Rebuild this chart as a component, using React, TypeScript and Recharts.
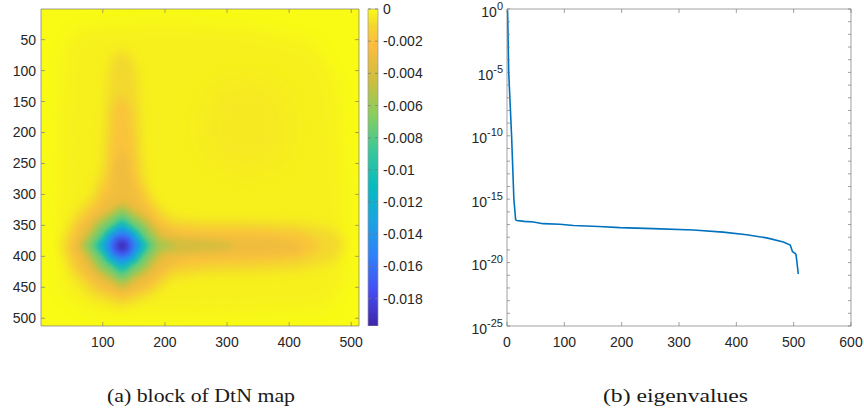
import React from 'react';
import {
  ScatterChart, Scatter, XAxis, YAxis, CartesianGrid,
  ComposedChart, ReferenceArea, LineChart, Line,
} from 'recharts';

// ---------- tick labels ----------
const heatXTicks = [100, 200, 300, 400, 500];
const heatYTicks = [50, 100, 150, 200, 250, 300, 350, 400, 450, 500];
const heatDomain: [number, number] = [0.5, 512.5];
const colorbarTicks = [0, -0.002, -0.004, -0.006, -0.008, -0.01, -0.012, -0.014, -0.016, -0.018];
const colorbarMin = -0.0197;
const eigXTicks = [0, 100, 200, 300, 400, 500, 600];
const eigDecades = [0, -1, -2, -3, -4, -5, -6, -7, -8, -9, -10, -11, -12, -13, -14, -15, -16, -17, -18, -19, -20, -21, -22, -23, -24, -25];

// ---------- eigenvalue series (index, log10 value) ----------
const eigIndex = [1, 3, 8, 12, 15, 17, 30, 46, 63, 92, 116, 160, 197, 255, 325, 377, 418, 453, 482, 494, 498, 502, 504, 506, 508];
const eigExponent = [-0.1, -5, -10, -15, -16.6, -16.68, -16.75, -16.8, -16.93, -16.97, -17.08, -17.15, -17.24, -17.32, -17.43, -17.6, -17.8, -18.05, -18.38, -18.62, -19.15, -19.25, -19.35, -20.05, -20.9];

// ---------- heat map: iso-regions (col, row) ----------
const paleRegion = [[60, 30], [200, 22], [330, 30], [440, 55], [478, 120], [488, 250], [492, 350], [490, 440], [460, 485], [330, 492], [200, 495], [80, 492], [35, 460], [28, 330], [30, 180], [36, 70]];
const paleBlob = [[331, 112], [384, 130], [405, 188], [388, 246], [331, 266], [276, 246], [257, 188], [278, 130]];
const ridge1 = [[131, 66], [148, 78], [156, 110], [160, 170], [163, 235], [170, 285], [188, 320], [215, 338], [260, 343], [340, 343], [420, 346], [470, 356], [490, 380], [472, 408], [420, 422], [340, 426], [260, 428], [210, 436], [180, 462], [131, 482], [80, 464], [50, 430], [32, 383], [52, 335], [84, 300], [100, 250], [104, 170], [108, 110], [114, 78]];
const ridge2 = [[131, 140], [144, 160], [150, 220], [155, 270], [172, 310], [205, 350], [270, 355], [350, 356], [420, 361], [452, 382], [420, 404], [350, 410], [270, 413], [212, 420], [176, 452], [131, 470], [88, 452], [54, 416], [44, 383], [58, 346], [90, 310], [108, 270], [113, 220], [118, 160]];
const ridge3 = [[131, 225], [142, 245], [146, 280], [160, 312], [185, 347], [230, 366], [300, 368], [380, 370], [420, 380], [415, 392], [380, 397], [300, 399], [230, 402], [190, 428], [165, 450], [131, 462], [95, 448], [66, 418], [52, 383], [66, 350], [95, 320], [115, 292], [120, 250]];
const ring4 = [[131, 312], [174, 340], [200, 369], [300, 377], [312, 383], [300, 389], [200, 397], [174, 426], [131, 454], [88, 426], [60, 383], [88, 340]];
const ring5 = [[131, 319], [169, 345], [192, 374], [212, 380], [216, 383], [212, 386], [192, 392], [169, 421], [131, 447], [93, 421], [67, 383], [93, 345]];
const ring6 = [[131, 327], [164, 350], [187, 383], [164, 416], [131, 439], [98, 416], [75, 383], [98, 350]];
const ring7 = [[131, 338], [156, 358], [176, 383], [156, 408], [131, 428], [106, 408], [86, 383], [106, 358]];
const ring8 = [[131, 346], [153, 361], [168, 383], [153, 405], [131, 420], [109, 405], [94, 383], [109, 361]];
const ring9 = [[131, 354], [149, 365], [160, 383], [149, 401], [131, 412], [113, 401], [102, 383], [113, 365]];
const ring10 = [[131, 364], [144, 370], [150, 383], [144, 396], [131, 402], [118, 396], [112, 383], [118, 370]];
const core = [[131, 373], [138, 376], [141, 383], [138, 390], [131, 393], [124, 390], [121, 383], [124, 376]];

const contourShapes = [paleRegion, paleBlob, ridge1, ridge2, ridge3, ring4, ring5, ring6, ring7, ring8, ring9, ring10, core];
const contourValues = [-0.0003, -0.0005, -0.001, -0.0019, -0.0028, -0.0041, -0.0056, -0.0074, -0.0094, -0.0118, -0.0143, -0.0168, -0.019];
// style: blur filter per region
const contourBlur = ['b9', 'b12', 'b6', 'b5', 'b35', 'b3', 'b3', 'b3', 'b25', 'b25', 'b25', 'b25', 'b25'];

// ---------- colormap (parula) ----------
const parulaStops: [number, string][] = [
  [0, '#3E26A8'], [0.111, '#454DF3'], [0.222, '#2F81FA'], [0.333, '#1AA4E1'],
  [0.444, '#08BBBE'], [0.556, '#3BC898'], [0.667, '#89CE5D'], [0.778, '#CFBE3D'],
  [0.889, '#FDBD3E'], [0.945, '#F3D530'], [1, '#F9FB15'],
];

const hex = (c: string) => [1, 3, 5].map((i) => parseInt(c.slice(i, i + 2), 16));
const colorAt = (v: number) => {
  const t = Math.max(0, Math.min(1, (v - colorbarMin) / (0 - colorbarMin)));
  for (let k = 1; k < parulaStops.length; k++) {
    const [t1, c1] = parulaStops[k];
    const [t0, c0] = parulaStops[k - 1];
    if (t <= t1) {
      const f = (t - t0) / (t1 - t0);
      const a = hex(c0), b = hex(c1);
      const m = a.map((x, i) => Math.round(x + (b[i] - x) * f));
      return `rgb(${m[0]},${m[1]},${m[2]})`;
    }
  }
  return parulaStops[parulaStops.length - 1][1];
};

const eigData = eigIndex.map((i, k) => ({ i, v: Math.pow(10, eigExponent[k]) }));
const eigYTickValues = eigDecades.map((e) => Math.pow(10, e));
const colorbarData = [{ x: 0 }, { x: 1 }];

const TEXT = '#262626';
const AXIS = '#7a7a7a';
const tickFont = { fontSize: 14, fill: TEXT, fontFamily: '"Liberation Sans", Arial, sans-serif' };
const axisLineStyle = { stroke: AXIS, strokeWidth: 0.7 };

const NoDot = () => null;
const NoTick = () => <g />;
const regionLine = (color: string, blur: string) => (props: any) => {
  const pts: { x: number; y: number }[] = props.points || [];
  if (!pts.length) return <g />;
  const d = pts.map((p, i) => `${i ? 'L' : 'M'}${p.x},${p.y}`).join('') + 'Z';
  return <path d={d} fill={color} stroke="none" filter={`url(#${blur})`} />;
};

const LogTick = (props: any) => {
  const { x, y, payload } = props;
  const e = Math.round(Math.log10(payload.value));
  if (e % 5 !== 0) return <g />;
  return (
    <text x={x} y={y + 7.5} textAnchor="end" fill={TEXT} fontSize={14} fontFamily='"Liberation Sans", Arial, sans-serif'>
      <tspan>10</tspan>
      <tspan dy={-7} fontSize={11}>{String(e)}</tspan>
    </text>
  );
};

const blurDefs: [string, number][] = [['b12', 12], ['b9', 9], ['b6', 6], ['b5', 5], ['b35', 3.5], ['b3', 3], ['b25', 2.5]];

export default function App() {
  return (
    <div style={{ position: 'fixed', left: 0, top: 0, width: 864, height: 413, background: '#fff', overflow: 'hidden', fontFamily: '"Liberation Sans", Arial, sans-serif' }}>
      <svg width={0} height={0} style={{ position: 'absolute' }}>
        <defs>
          {blurDefs.map(([id, s]) => (
            <filter key={id} id={id} x="-50%" y="-50%" width="200%" height="200%">
              <feGaussianBlur stdDeviation={s} />
            </filter>
          ))}
          <linearGradient id="parulaBar" x1="0" y1="0" x2="0" y2="1">
            {parulaStops.slice().reverse().map(([t, c]) => (
              <stop key={t} offset={1 - t} stopColor={c} />
            ))}
          </linearGradient>
        </defs>
      </svg>

      {/* (a) heat map */}
      <div style={{ position: 'absolute', left: 0, top: 0 }}>
        <ScatterChart width={400} height={356} margin={{ top: 8, right: 40, bottom: 0, left: 0 }}>
          <CartesianGrid horizontal={false} vertical={false} fill={colorAt(0)} stroke="none" />
          {contourShapes.map((shape, k) => (
            <Scatter
              key={k}
              data={shape.map(([x, y]) => ({ x, y }))}
              line={regionLine(colorAt(contourValues[k]), contourBlur[k])}
              lineType="joint"
              shape={NoDot}
              fill="none"
              isAnimationActive={false}
            />
          ))}
          <XAxis type="number" dataKey="x" domain={heatDomain} ticks={heatXTicks} allowDataOverflow interval={0}
            height={30} tickSize={-4} tickMargin={15} tick={tickFont}
            axisLine={axisLineStyle} tickLine={axisLineStyle} />
          <XAxis xAxisId="top" orientation="top" type="number" dataKey="x" domain={heatDomain} ticks={heatXTicks} allowDataOverflow interval={0}
            height={1} tickSize={-4} tick={NoTick}
            axisLine={axisLineStyle} tickLine={axisLineStyle} />
          <YAxis type="number" dataKey="y" domain={heatDomain} ticks={heatYTicks} reversed allowDataOverflow interval={0}
            width={41} tickSize={-4} tickMargin={9} tick={tickFont}
            axisLine={axisLineStyle} tickLine={axisLineStyle} />
          <YAxis yAxisId="right" orientation="right" type="number" dataKey="y" domain={heatDomain} ticks={heatYTicks} reversed allowDataOverflow interval={0}
            width={1} tickSize={-4} tick={NoTick}
            axisLine={axisLineStyle} tickLine={axisLineStyle} />
        </ScatterChart>
      </div>

      {/* colour bar */}
      <div style={{ position: 'absolute', left: 0, top: 0 }}>
        <ComposedChart width={438} height={326} data={colorbarData} margin={{ top: 9, right: 0, bottom: 0, left: 367 }}>
          <XAxis type="number" dataKey="x" domain={[0, 1]} hide />
          <YAxis yAxisId="cb" orientation="right" type="number" domain={[colorbarMin, 0]} ticks={colorbarTicks} allowDataOverflow interval={0}
            width={60} tickSize={-3} tickMargin={8} tick={tickFont} axisLine={false}
            tickLine={axisLineStyle} />
          <YAxis yAxisId="cbl" orientation="left" type="number" domain={[colorbarMin, 0]} ticks={colorbarTicks} allowDataOverflow interval={0}
            width={1} tickSize={-3} tick={NoTick} axisLine={false}
            tickLine={axisLineStyle} />
          <ReferenceArea yAxisId="cb" y1={colorbarMin} y2={0} fill="url(#parulaBar)" fillOpacity={1}
            stroke="#9a9a9a" strokeWidth={0.7} ifOverflow="visible" />
        </ComposedChart>
      </div>

      {/* (b) eigenvalues */}
      <div style={{ position: 'absolute', left: 440, top: 0 }}>
        <LineChart width={424} height={356} data={eigData} margin={{ top: 8, right: 12, bottom: 0, left: 0 }}>
          <XAxis type="number" dataKey="i" domain={[0, 600]} ticks={eigXTicks} allowDataOverflow interval={0}
            height={30} tickSize={-4} tickMargin={15} tick={tickFont}
            axisLine={axisLineStyle} tickLine={axisLineStyle} />
          <XAxis xAxisId="top" orientation="top" type="number" dataKey="i" domain={[0, 600]} ticks={eigXTicks} allowDataOverflow interval={0}
            height={1} tickSize={-4} tick={NoTick}
            axisLine={axisLineStyle} tickLine={axisLineStyle} />
          <YAxis type="number" scale="log" domain={[1e-25, 1]} ticks={eigYTickValues} allowDataOverflow interval={0}
            width={67} tickSize={-3} tickMargin={7} tick={LogTick}
            axisLine={axisLineStyle} tickLine={axisLineStyle} />
          <YAxis yAxisId="r" orientation="right" type="number" scale="log" domain={[1e-25, 1]} ticks={eigYTickValues} allowDataOverflow interval={0}
            width={1} tickSize={-3} tick={NoTick}
            axisLine={axisLineStyle} tickLine={axisLineStyle} />
          <Line type="linear" dataKey="v" stroke="#0072BD" strokeWidth={1.6} dot={false} isAnimationActive={false} />
        </LineChart>
      </div>

      {/* captions */}
      <svg width={864} height={413} style={{ position: 'absolute', left: 0, top: 0, pointerEvents: 'none' }}>
        <text x={201} y={402} textAnchor="middle" fontSize={19} fill="#1a1a1a"
          fontFamily='"Liberation Serif", "Times New Roman", serif' textLength={188} lengthAdjust="spacingAndGlyphs">
          (a) block of DtN map
        </text>
        <text x={675.5} y={402} textAnchor="middle" fontSize={19} fill="#1a1a1a"
          fontFamily='"Liberation Serif", "Times New Roman", serif' textLength={145} lengthAdjust="spacingAndGlyphs">
          (b) eigenvalues
        </text>
      </svg>
    </div>
  );
}
